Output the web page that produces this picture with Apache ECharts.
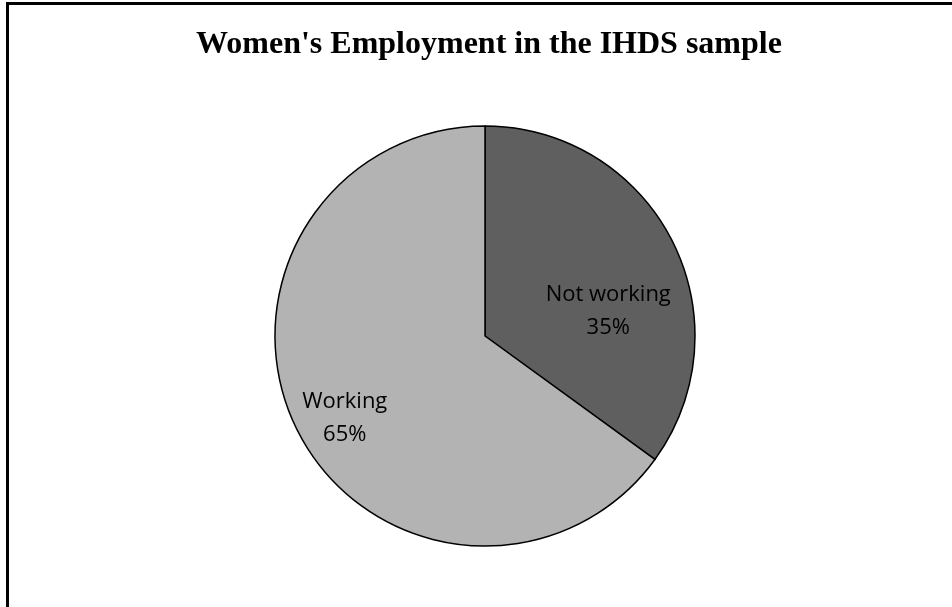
<!DOCTYPE html>
<html>
<head>
<meta charset="utf-8">
<script src="https://cdn.jsdelivr.net/npm/echarts@6/dist/echarts.min.js"></script>
<style>
  html, body { margin: 0; padding: 0; background: #fff; }
  #chart { width: 952px; height: 607px; }
</style>
</head>
<body>
<div id="chart"></div>
<script>
const categories = ["Not working", "Working"];
const shares = [35, 65];
const sliceColors = ["#5f5f5f", "#b3b3b3"];
// nudge the inside labels to where the original puts them
const labelShift = [[27, 24], [-44, 33]];

const chart = echarts.init(document.getElementById("chart"));

chart.setOption({
  animation: false,
  title: {
    text: "Women's Employment in the IHDS sample",
    left: 484,
    top: 24,
    textAlign: "center",
    textStyle: {
      fontFamily: "Liberation Serif",
      fontWeight: "bold",
      fontSize: 32,
      color: "#000",
    },
  },
  graphic: [
    {
      type: "rect",
      shape: { x: 7.5, y: 3.5, width: 1000, height: 1000 },
      style: { fill: "none", stroke: "#000", lineWidth: 3 },
      silent: true,
    },
  ],
  series: [
    {
      type: "pie",
      center: [485, 336],
      radius: 210,
      startAngle: 90,
      clockwise: true,
      label: {
        show: true,
        position: "inside",
        formatter: "{b}\n{d}%",
        fontFamily: "Open Sans",
        fontSize: 22,
        lineHeight: 33,
        color: "#000",
      },
      labelLine: { show: false },
      labelLayout: (p) => ({ dx: labelShift[p.dataIndex][0], dy: labelShift[p.dataIndex][1] }),
      itemStyle: { borderColor: "#000", borderWidth: 1.5 },
      emphasis: { disabled: true },
      data: categories.map((name, i) => ({
        name: name,
        value: shares[i],
        itemStyle: { color: sliceColors[i] },
      })),
    },
  ],
});
</script>
</body>
</html>
